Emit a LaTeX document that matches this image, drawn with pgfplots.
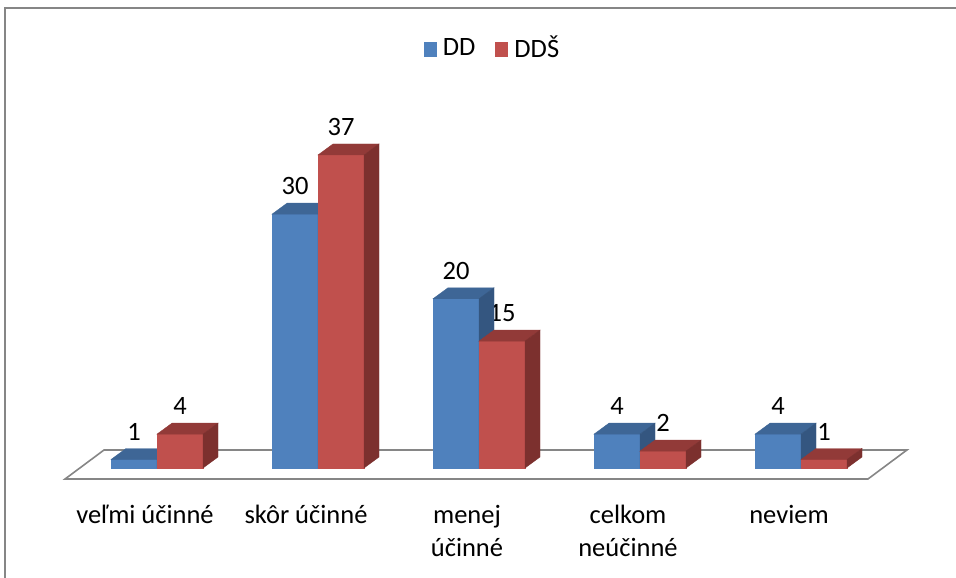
\documentclass[border=0pt]{standalone}
\usepackage{fontspec}
\setmainfont{Carlito}
\usepackage{pgfplots}
\pgfplotsset{compat=1.18}
\definecolor{bfront}{RGB}{79,129,189}
\definecolor{btop}{RGB}{62,102,150}
\definecolor{bside}{RGB}{52,86,128}
\definecolor{rfront}{RGB}{192,80,77}
\definecolor{rtop}{RGB}{146,58,56}
\definecolor{rside}{RGB}{124,48,46}
\definecolor{framegray}{RGB}{134,134,134}
\pgfdeclareplotmark{nothing}{}
\begin{document}
\begin{tikzpicture}
\useasboundingbox (0,0) rectangle (956bp,578bp);
\draw[framegray, line width=1.5bp] (5bp,-10bp) -- (5bp,570bp) -- (970bp,570bp);
\begin{axis}[
  at={(76.5bp,110bp)}, anchor=south west,
  x=161bp, y=8.46bp,
  xmin=-0.5, xmax=4.5, ymin=0, ymax=45,
  clip=false,
  axis line style={draw=none},
  tick style={draw=none},
  ytick=\empty,
  xtick={0,1,2,3,4},
  xticklabels={veľmi účinné, skôr účinné, menej\\účinné, celkom\\neúčinné, neviem},
  typeset ticklabels with strut,
  xticklabel style={font=\fontsize{26.5bp}{33bp}\selectfont, align=center, xshift=-12bp, yshift=-29bp, anchor=north},
  /pgf/number format/assume math mode=true,
  legend columns=2,
  legend style={at={(0.5168,1.1046)}, anchor=center, draw=none, fill=none,
    font=\fontsize{26.5bp}{30bp}\selectfont,
    /tikz/every even column/.append style={column sep=18bp}},
]
% floor
\addplot[draw=framegray, fill=white, line width=1.6bp, mark=none, forget plot]
  coordinates {(-0.571,-1.30) (4.416,-1.30) (4.658,2.13) (-0.329,2.13)} -- cycle;
% DD front faces and labels
\addplot[ybar, bar width=46bp, bar shift=-23bp, fill=bfront, draw=none,
  legend image code/.code={\fill[bfront] (0bp,-10bp) rectangle (13bp,5bp); \path (17bp,0bp);},
  nodes near coords,
  nodes near coords style={font=\fontsize{26.5bp}{30bp}\selectfont, anchor=base, xshift=-23bp, yshift=19.5bp, text=black}]
  coordinates {(0,1) (1,30) (2,20) (3,4) (4,4)};
\addlegendentry{DD}
% DDS front faces and labels
\addplot[ybar, bar width=46bp, bar shift=23bp, fill=rfront, draw=none,
  legend image code/.code={\fill[rfront] (0bp,-10bp) rectangle (13bp,5bp); \path (17bp,0bp);},
  nodes near coords,
  nodes near coords style={font=\fontsize{26.5bp}{30bp}\selectfont, anchor=base, xshift=23bp, yshift=19.5bp, text=black}]
  coordinates {(0,4) (1,37) (2,15) (3,2) (4,1)};
\addlegendentry{DDŠ}
% DD 3D top and side
\addplot[scatter, only marks, mark=nothing, forget plot,
  visualization depends on={rawy \as \rawy},
  scatter/@pre marker code/.code={%
    \pgfmathsetmacro\hh{\rawy*8.46}%
    \fill[bfront] (-46bp,0bp) rectangle (0bp,{-\hh*1bp});
    \fill[btop] (-46bp,0bp) -- (0bp,0bp) -- (15bp,11bp) -- (-31bp,11bp) -- cycle;
    \fill[bside] (0bp,0bp) -- (15bp,11bp) -- (15bp,{(11-\hh)*1bp}) -- (0bp,{-\hh*1bp}) -- cycle;
  },
  scatter/@post marker code/.code={}]
  coordinates {(0,1) (1,30) (2,20) (3,4) (4,4)};
% DDS full 3D bar (drawn last so it hides the DD side faces)
\addplot[scatter, only marks, mark=nothing, forget plot,
  visualization depends on={rawy \as \rawy},
  scatter/@pre marker code/.code={%
    \pgfmathsetmacro\hh{\rawy*8.46}%
    \fill[rfront] (0bp,0bp) rectangle (46bp,{-\hh*1bp});
    \fill[rtop] (0bp,0bp) -- (46bp,0bp) -- (61bp,11bp) -- (15bp,11bp) -- cycle;
    \fill[rside] (46bp,0bp) -- (61bp,11bp) -- (61bp,{(11-\hh)*1bp}) -- (46bp,{-\hh*1bp}) -- cycle;
  },
  scatter/@post marker code/.code={}]
  coordinates {(0,4) (1,37) (2,15) (3,2) (4,1)};
\end{axis}
\end{tikzpicture}
\end{document}
